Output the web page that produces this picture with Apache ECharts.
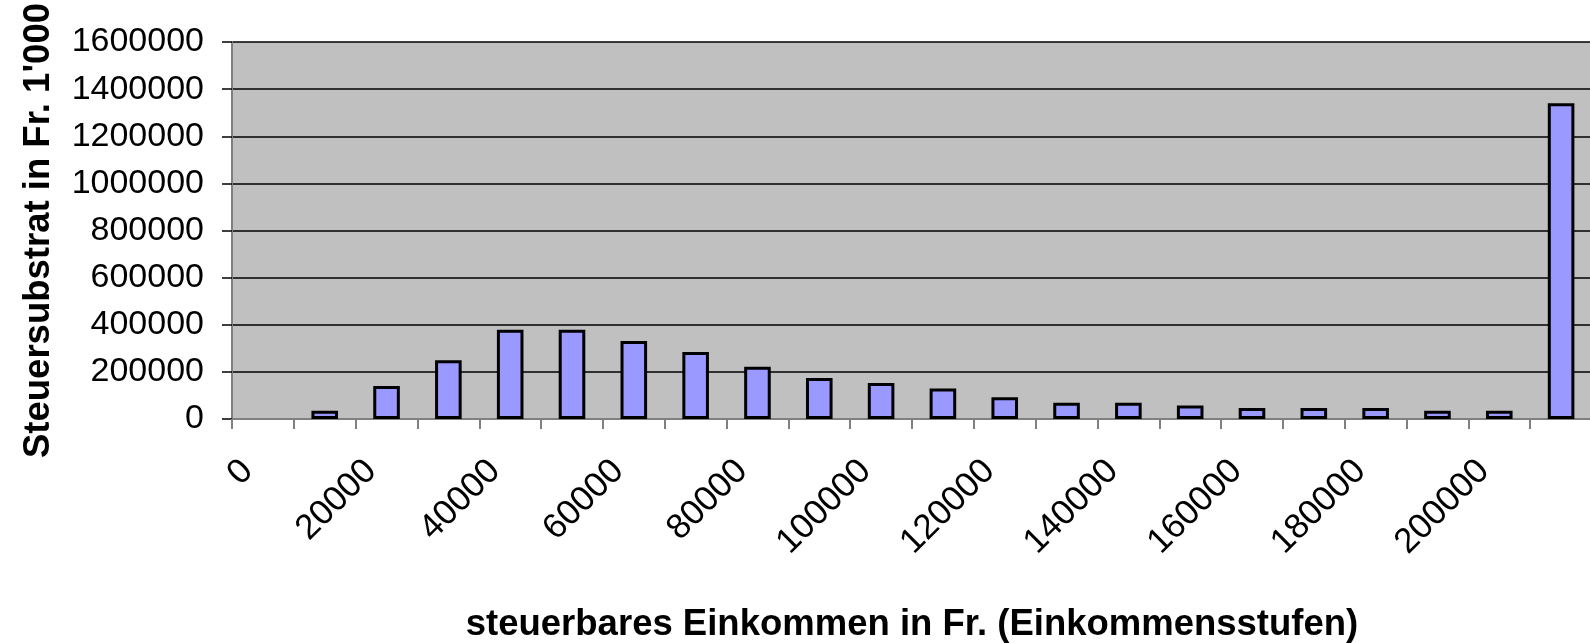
<!DOCTYPE html>
<html>
<head>
<meta charset="utf-8">
<script src="https://cdn.jsdelivr.net/npm/echarts@6/dist/echarts.min.js"></script>
<style>
  html, body { margin: 0; padding: 0; background: #fff; }
  #chart { width: 1590px; height: 643px; }
</style>
</head>
<body>
<div id="chart"></div>
<script>
// Einkommensstufen (Kategorien) und Steuersubstrat in Fr. 1'000
var incomeSteps = ['0', '10000', '20000', '30000', '40000', '50000', '60000', '70000', '80000', '90000', '100000',
  '110000', '120000', '130000', '140000', '150000', '160000', '170000', '180000', '190000', '200000', '210000'];
var substrat = [null, 35000, 140000, 249000, 379000, 379000, 331000, 284000, 222000, 174000, 153000,
  129000, 92000, 69000, 69000, 57000, 47000, 47000, 47000, 35000, 35000, 1340000];
var yTicks = { min: 0, max: 1600000, step: 200000 };

var myChart = echarts.init(document.getElementById('chart'));
var font = 'Liberation Sans, Arial, sans-serif';
var option = {
  animation: false,
  grid: {
    left: 232, top: 42, right: -2, bottom: 224,
    containLabel: false, outerBoundsMode: 'none',
    show: true, backgroundColor: '#C0C0C0', borderWidth: 0
  },
  xAxis: {
    type: 'category',
    data: incomeSteps,
    name: 'steuerbares Einkommen in Fr. (Einkommensstufen)',
    nameLocation: 'middle',
    nameGap: 187,
    nameTextStyle: { fontFamily: font, fontWeight: 'bold', fontSize: 36.5, color: '#000' },
    axisLine: { lineStyle: { color: '#808080', width: 2 } },
    axisTick: { show: true, interval: 0, length: 10, lineStyle: { color: '#808080', width: 2 } },
    axisLabel: {
      interval: 1, rotate: 45, margin: 31, padding: [0, 22, 0, 0],
      fontFamily: font, fontSize: 35, color: '#000'
    },
    splitLine: { show: false }
  },
  yAxis: {
    type: 'value',
    min: yTicks.min, max: yTicks.max, interval: yTicks.step,
    name: "Steuersubstrat in Fr. 1'000",
    nameLocation: 'middle',
    nameGap: 175,
    nameTextStyle: { fontFamily: font, fontWeight: 'bold', fontSize: 36.5, color: '#000' },
    axisLine: { show: true, lineStyle: { color: '#808080', width: 2 } },
    axisTick: { show: true, length: 10, lineStyle: { color: '#000', width: 1.5 } },
    axisLabel: {
      margin: 28, fontFamily: font, fontSize: 34, color: '#000',
      formatter: function (v) { return String(v); }
    },
    splitLine: { show: true, lineStyle: { color: '#000', width: 1.5 } }
  },
  series: [{
    type: 'bar',
    data: substrat,
    barWidth: '43%',
    itemStyle: { color: '#9999FF', borderColor: '#000', borderWidth: 3 }
  }]
};
myChart.setOption(option);
</script>
</body>
</html>
